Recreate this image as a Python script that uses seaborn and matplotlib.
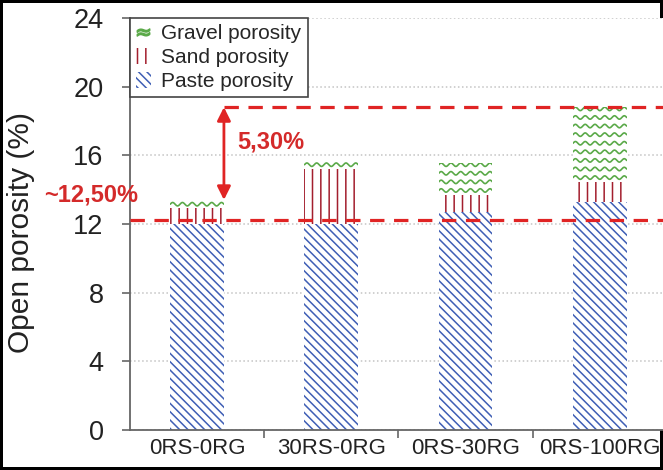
import numpy as np
import pandas as pd
import seaborn as sns
import matplotlib.pyplot as plt
from matplotlib.patches import Patch
from matplotlib.lines import Line2D

# donnees
categories = ['0RS-0RG', '30RS-0RG', '0RS-30RG', '0RS-100RG']
paste = [12.0, 12.0, 12.7, 13.3]
sand = [0.9, 3.2, 1.0, 1.15]
gravel = [0.5, 0.5, 1.85, 4.35]
ref_low = 12.25
ref_high = 18.8
ref_low_label = '~12,50%'
gap_label = '5,30%'
legend_labels = ['Gravel porosity', 'Sand porosity', 'Paste porosity']

sns.set_theme(style='white')
plt.rcParams['font.family'] = ['Liberation Sans', 'DejaVu Sans']
plt.rcParams['hatch.linewidth'] = 1.1

blue = '#3f5fb5'
brown = '#a31f2e'
green = '#5aa948'
red = '#e02424'

df = pd.DataFrame({'mix': categories, 'paste': paste, 'sand': sand, 'gravel': gravel})
df['sand_top'] = df['paste'] + df['sand']
df['total'] = df['sand_top'] + df['gravel']

fig = plt.figure(figsize=(6.63, 4.70), dpi=100)
fig.patch.set_edgecolor('black')
fig.patch.set_linewidth(3)
ax = fig.add_axes([0.196, 0.085, 0.81, 0.877])

w = 0.4
# couche gravier (fond blanc + vagues)
sns.barplot(data=df, x='mix', y='total', color='white', saturation=1, width=w,
            linewidth=0, edgecolor='white', ax=ax, zorder=1)
gravel_bars = list(ax.patches)

# vagues dans la partie gravier
spacing = 0.5
amp = 0.1
for i, bar in enumerate(gravel_bars):
    left = bar.get_x()
    bw = bar.get_width()
    xs = np.linspace(left, left + bw, 300)
    for row in np.arange(df['sand_top'][i] + spacing / 2, df['total'][i], spacing):
        ys = row + amp * np.sin(2 * np.pi * (xs - left) / (bw / 5.5))
        ln, = ax.plot(xs, ys, color=green, lw=1.2, zorder=1.5)
        ln.set_clip_path(bar)

# couche sable
sns.barplot(data=df, x='mix', y='sand_top', color='white', saturation=1, width=w,
            linewidth=0, edgecolor=brown, hatch='||', ax=ax, zorder=2)
# couche pate
sns.barplot(data=df, x='mix', y='paste', color='white', saturation=1, width=w,
            linewidth=0, edgecolor=blue, hatch='\\' * 4, ax=ax, zorder=2.5)

# lignes de reference
ax.axhline(ref_low, color=red, lw=2.3, linestyle=(0, (4.5, 3)), zorder=4)
x_arrow = gravel_bars[0].get_x() + gravel_bars[0].get_width()
ax.plot([x_arrow, 3.6], [ref_high, ref_high], color=red, lw=2.3,
        linestyle=(0, (4.5, 3)), zorder=4, clip_on=False)
ax.annotate('', xy=(x_arrow, ref_high), xytext=(x_arrow, df['total'][0]),
            arrowprops=dict(arrowstyle='<|-|>', color=red, lw=2,
                            mutation_scale=20, shrinkA=0, shrinkB=0), zorder=5)
ax.text(x_arrow + 0.1, 16.8, gap_label, color='#d42a2a', fontsize=17,
        fontweight='bold', ha='left', va='center')
ax.text(-0.44, 13.7, ref_low_label, color='#d42a2a', fontsize=17,
        fontweight='bold', ha='right', va='center', clip_on=False)

ax.set_xlim(-0.5, 3.5)
ax.set_ylim(0, 24)
ax.set_yticks([0, 4, 8, 12, 16, 20, 24])
ax.yaxis.grid(True, linestyle=':', color='#c4c4c4', lw=1.1)
ax.set_axisbelow(True)

ax.set_xlabel('')
ax.set_ylabel('Open porosity (%)', fontsize=21.5, color='#222222')
ax.yaxis.set_label_coords(-0.176, 0.48)

for s in ['top', 'right']:
    ax.spines[s].set_visible(False)
for s in ['left', 'bottom']:
    ax.spines[s].set_color('#666666')
    ax.spines[s].set_linewidth(1.3)

ax.tick_params(axis='y', direction='out', length=6, width=1.2, color='#666666',
               labelsize=19.5, pad=13, left=True, labelcolor='#222222')
ax.set_xticks([0.5, 1.5, 2.5], minor=True)
ax.tick_params(axis='x', which='major', length=0, labelsize=16, pad=6,
               labelcolor='#222222')
ax.tick_params(axis='x', which='minor', direction='out', length=6, width=1.2,
               color='#666666', bottom=True)

handles = [
    Line2D([], [], marker='$\\approx$', color=green, linestyle='none', markersize=9),
    Patch(facecolor='white', edgecolor=brown, hatch='||', linewidth=0),
    Patch(facecolor='white', edgecolor=blue, hatch='\\' * 4, linewidth=0),
]
leg = ax.legend(handles, legend_labels, loc='upper left', bbox_to_anchor=(0, 1),
                borderaxespad=0, fontsize=15, frameon=True, fancybox=False,
                edgecolor='#444444', framealpha=1, handlelength=0.7,
                handleheight=0.8, handletextpad=0.5, labelspacing=0.22,
                borderpad=0.3)
leg.get_frame().set_linewidth(1.2)

fig.savefig('out.png', dpi=100)
